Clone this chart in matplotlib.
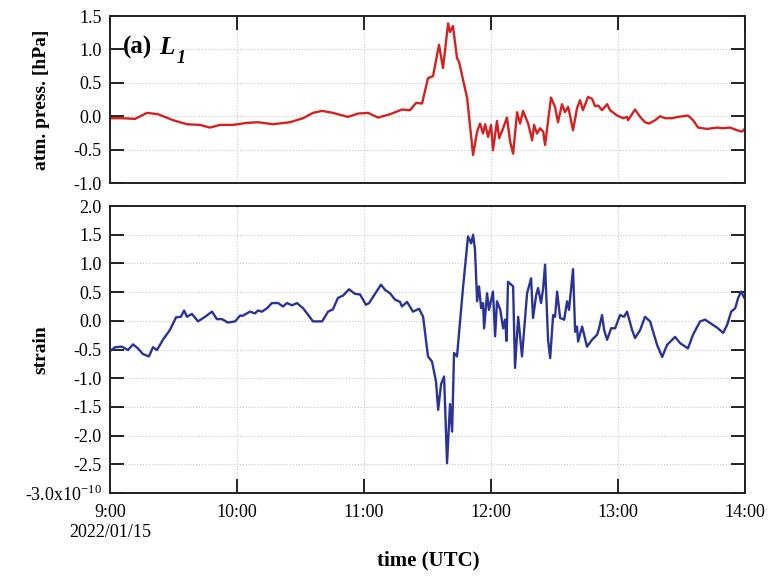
import matplotlib
matplotlib.use('Agg')
import matplotlib.pyplot as plt
import numpy as np

plt.rcParams['font.family'] = ['Liberation Serif', 'DejaVu Serif']
plt.rcParams['mathtext.fontset'] = 'custom'
plt.rcParams['mathtext.rm'] = 'Liberation Serif'
plt.rcParams['axes.unicode_minus'] = False

# minutes after 9:00 UTC, 2022/01/15
t_press = [0, 6.1, 11.8, 17.5, 22.7, 29.8, 36.4, 42.5, 47.2, 52.0, 58.1, 64.7, 69.9, 77.0,
           85.0, 91.2, 95.9, 100.2, 105.3, 112.4, 117.2, 121.9, 126.6, 132.3, 137.9, 141.7,
           144.6, 147.4, 150.2, 152.6, 155.4, 157.3, 159.7, 160.6, 162.0, 163.9, 164.9,
           168.7, 171.5, 173.4, 174.8, 176.2, 177.2, 178.6, 180.0, 180.9, 182.8, 183.8,
           185.7, 187.5, 189.0, 190.4, 192.3, 193.7, 195.1, 197.5, 199.4, 200.3, 201.7,
           203.1, 204.6, 205.5, 208.3, 210.2, 211.6, 213.5, 214.9, 216.4, 217.3, 218.7,
           220.6, 222.0, 223.4, 225.8, 227.7, 229.1, 230.6, 232.4, 234.8, 236.2, 239.5,
           242.4, 244.2, 244.7, 248.0, 250.4, 252.7, 254.6, 257.5, 259.8, 262.2, 265.5,
           268.3, 273.0, 275.4, 277.8, 282.0, 286.8, 289.6, 292.9, 296.2, 298.6, 300.0]
press = [-0.03, -0.03, -0.04, 0.05, 0.03, -0.06, -0.12, -0.13, -0.17, -0.13, -0.13, -0.10,
         -0.09, -0.12, -0.09, -0.03, 0.05, 0.08, 0.05, -0.01, 0.04, 0.05, -0.02, 0.03, 0.10,
         0.09, 0.20, 0.19, 0.57, 0.60, 1.07, 0.72, 1.39, 1.26, 1.35, 0.87, 0.81,
         0.27, -0.58, -0.23, -0.11, -0.26, -0.12, -0.31, -0.13, -0.51, -0.07, -0.33,
         -0.18, -0.02, -0.38, -0.56, 0.06, -0.11, 0.08, -0.11, -0.36, -0.13, -0.26,
         -0.18, -0.23, -0.43, 0.28, 0.14, -0.09, 0.18, 0.06, 0.14, 0.01, -0.21,
         0.12, 0.24, 0.09, 0.29, 0.26, 0.15, 0.16, 0.09, 0.18, 0.09, 0.01,
         -0.03, -0.01, -0.06, 0.10, -0.01, -0.09, -0.11, -0.06, 0.00, -0.03, -0.03,
         -0.01, 0.01, -0.06, -0.17, -0.19, -0.17, -0.18, -0.17, -0.21, -0.23, -0.18]

t_strain = [0, 2.4, 5.7, 8.5, 10.9, 13.2, 15.6, 18.4, 20.3, 22.2, 25.0, 28.3, 31.2, 33.5,
            35.0, 36.4, 38.7, 41.6, 44.9, 48.2, 50.5, 52.9, 55.7, 59.1, 61.4, 62.8, 66.1,
            68.5, 69.9, 71.8, 74.2, 76.5, 79.4, 81.7, 83.6, 86.0, 88.3, 91.2, 95.9, 100.2,
            103.0, 105.3, 107.7, 110.1, 112.9, 115.7, 118.1, 120.9, 122.4, 124.3, 128.0,
            129.9, 132.3, 134.6, 137.0, 137.9, 140.3, 143.1, 146.0, 147.9, 150.2, 152.1,
            154.0, 155.0, 156.4, 157.8, 159.2, 160.6, 161.6, 162.5, 163.9, 166.8, 169.1,
            170.6, 171.5, 172.4, 173.4, 174.3, 175.3, 176.2, 176.7, 178.1, 179.0, 180.9,
            181.9, 182.8, 184.3, 185.7, 186.6, 187.3, 188.0, 190.4, 191.3, 192.8, 194.6,
            196.1, 197.0, 198.9, 199.8, 201.3, 202.2, 203.6, 204.6, 205.5, 206.9, 207.9,
            209.3, 210.2, 211.2, 212.6, 214.5, 215.9, 216.8, 218.7, 219.7, 220.6, 221.1,
            223.0, 225.3, 227.7, 230.1, 231.0, 232.4, 233.4, 234.8, 236.7, 238.6, 240.9,
            242.8, 244.2, 246.6, 248.0, 250.4, 252.7, 255.1, 258.4, 260.8, 263.1, 266.9,
            269.3, 273.0, 275.4, 278.7, 281.1, 283.5, 286.8, 289.6, 291.5, 293.4, 295.3,
            296.7, 298.1, 300.0]
strain = [-0.53, -0.46, -0.45, -0.51, -0.41, -0.48, -0.58, -0.62, -0.46, -0.51, -0.33, -0.16,
          0.06, 0.07, 0.18, 0.07, 0.12, -0.01, 0.07, 0.16, 0.03, 0.03, -0.03, -0.01, 0.09,
          0.09, 0.16, 0.13, 0.18, 0.16, 0.22, 0.31, 0.31, 0.25, 0.31, 0.27, 0.31, 0.22,
          -0.01, -0.01, 0.16, 0.20, 0.40, 0.44, 0.55, 0.47, 0.46, 0.28, 0.31, 0.42, 0.63,
          0.54, 0.48, 0.37, 0.33, 0.25, 0.33, 0.16, 0.21, 0.07, -0.62, -0.71,
          -1.06, -1.55, -1.10, -0.97, -2.48, -1.45, -1.93, -0.56, -0.62, 0.60, 1.47,
          1.35, 1.50, 1.24, 0.34, 0.60, 0.22, 0.31, -0.13, 0.48, 0.19, 0.51,
          -0.27, 0.34, 0.20, -0.13, 0.02, -0.35, 0.68, 0.60, -0.82, 0.07, -0.62,
          0.07, 0.48, 0.74, 0.05, 0.45, 0.57, 0.31, 0.57, 0.98, -0.33, -0.65,
          0.10, 0.07, 0.51, 0.05, 0.02, 0.34, 0.19, 0.90, -0.19, -0.10, -0.36,
          -0.10, -0.45, -0.33, -0.24, -0.13, 0.10, -0.16, -0.33, -0.13, -0.13, 0.10,
          0.07, 0.16, -0.16, -0.30, -0.16, 0.07, -0.01, -0.42, -0.63, -0.42, -0.28,
          -0.39, -0.48, -0.24, -0.01, 0.02, -0.04, -0.12, -0.21, -0.07, 0.16, 0.22,
          0.40, 0.51, 0.37]

xticks = [0, 60, 120, 180, 240, 300]
xticklabels = ['9:00\n2022/01/15', '10:00', '11:00', '12:00', '13:00', '14:00']

fig = plt.figure(figsize=(7.69, 5.84), dpi=100)
ax1 = fig.add_axes([0.143, 0.6866, 0.826, 0.286])
ax2 = fig.add_axes([0.143, 0.1558, 0.826, 0.4914])

ax1.plot(t_press, press, color='#d42222', lw=1.7)
ax2.plot(t_strain, strain, color='#2b3394', lw=1.7)

for ax in (ax1, ax2):
    ax.set_xlim(0, 300)
    ax.set_xticks(xticks)
    ax.grid(True, color='#c8c8c8', linestyle=':', linewidth=0.8)
    ax.tick_params(direction='in', length=10, width=1.2, labelsize=13, pad=6,
                   right=True)
    for s in ax.spines.values():
        s.set_linewidth(1.4)
        s.set_color('#222222')

ax1.set_ylim(-1.0, 1.5)
ax1.set_yticks(np.arange(-1.0, 1.51, 0.5))
ax1.set_yticklabels(['%.1f' % v for v in np.arange(-1.0, 1.51, 0.5)])
ax1.tick_params(axis='x', top=True, bottom=False, labelbottom=False)
ax1.set_ylabel('atm. press. [hPa]', fontsize=14, fontweight='bold')
ax1.yaxis.set_label_coords(-0.095, 0.5)

# panel label "(a) L1" with bold italic L and subscript
ax1.text(0.02, 0.81, '(a)', transform=ax1.transAxes,
         fontsize=18, fontweight='bold', va='center', ha='left')
ax1.text(0.078, 0.81, 'L', transform=ax1.transAxes, fontsize=18,
         fontweight='bold', fontstyle='italic', va='center', ha='left')
ax1.text(0.105, 0.745, '1', transform=ax1.transAxes, fontsize=13,
         fontweight='bold', fontstyle='italic', va='center', ha='left')

yt2 = np.arange(-3.0, 2.01, 0.5)
ax2.set_ylim(-3.0, 2.0)
ax2.set_yticks(yt2)
labels2 = ['%.1f' % v for v in yt2]
labels2[0] = '-3.0x10$^{\\mathregular{-10}}$'
ax2.set_yticklabels(labels2)
ax2.set_xticklabels(xticklabels)
ax2.tick_params(axis='x', pad=8)
ax2.set_ylabel('strain', fontsize=14, fontweight='bold')
ax2.yaxis.set_label_coords(-0.095, 0.5)

fig.text(0.557, 0.04, 'time (UTC)', fontsize=15, fontweight='bold', ha='center', va='center')

fig.savefig('out.png', dpi=100, facecolor='white')
